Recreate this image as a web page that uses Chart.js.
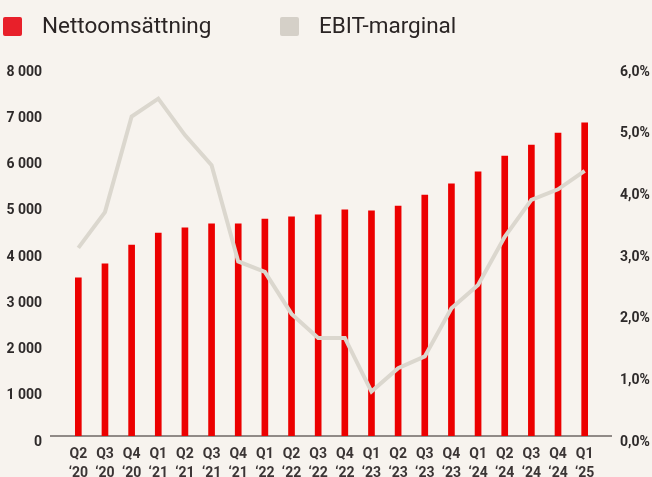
<!DOCTYPE html>
<html>
<head>
<meta charset="utf-8">
<script src="https://cdn.jsdelivr.net/npm/chart.js@4/dist/chart.umd.min.js"></script>
<style>
  html, body { margin: 0; padding: 0; background: #F7F3EE; }
  #wrap { position: relative; width: 652px; height: 477px; overflow: hidden; }
  #chart { position: absolute; left: 0; top: 0; }
  .legend { position: absolute; top: 12px; display: flex; align-items: center;
            font-family: Roboto, sans-serif; font-size: 22.5px; color: #2A2424; }
  .legend .box { width: 19px; height: 19px; border-radius: 2px; margin-right: 20px; margin-top: 3px; }
</style>
</head>
<body>
<div id="wrap">
  <canvas id="chart" width="652" height="477"></canvas>
  <div class="legend" style="left:3px"><span class="box" style="background:#E8202A"></span>Nettoomsättning</div>
  <div class="legend" style="left:280px"><span class="box" style="background:#D5D0C8"></span>EBIT-marginal</div>
</div>
<script>
// quarters, two-line labels
const quarters = ['Q2', 'Q3', 'Q4', 'Q1', 'Q2', 'Q3', 'Q4', 'Q1', 'Q2', 'Q3',
                  'Q4', 'Q1', 'Q2', 'Q3', 'Q4', 'Q1', 'Q2', 'Q3', 'Q4', 'Q1'];
const years = ['‘20', '‘20', '‘20', '‘21', '‘21', '‘21', '‘21', '‘22', '‘22', '‘22',
               '‘22', '‘23', '‘23', '‘23', '‘23', '‘24', '‘24', '‘24', '‘24', '‘25'];

// Nettoomsättning (left axis)
const netSales = [3420, 3720, 4130, 4390, 4500, 4590, 4590, 4690, 4740, 4780,
                  4890, 4870, 4970, 5210, 5450, 5710, 6050, 6290, 6550, 6770];

// EBIT-marginal in % (right axis)
const ebitMargin = [3.05, 3.63, 5.18, 5.47, 4.88, 4.39, 2.83, 2.66, 1.98, 1.59,
                    1.59, 0.72, 1.10, 1.29, 2.07, 2.45, 3.23, 3.83, 4.00, 4.30];

const leftTicks = [0, 1000, 2000, 3000, 4000, 5000, 6000, 7000, 8000];
const rightTicks = [0, 1, 2, 3, 4, 5, 6];

const labels = quarters.map((q, i) => [q, years[i]]);

// axis line that runs a bit past the plot on both sides
const baseLine = {
  id: 'baseLine',
  beforeDatasetsDraw(chart) {
    const { ctx, chartArea } = chart;
    const y = chart.scales.y.getPixelForValue(0);
    ctx.save();
    ctx.strokeStyle = '#6E6764';
    ctx.lineWidth = 1.5;
    ctx.beginPath();
    ctx.moveTo(chartArea.left - 15, y);
    ctx.lineTo(chartArea.right + 14, y);
    ctx.stroke();
    ctx.restore();
  }
};

const tickFont = { family: 'Roboto', size: 14, weight: 'bold' };

new Chart(document.getElementById('chart').getContext('2d'), {
  data: {
    labels: labels,
    datasets: [
      {
        type: 'line',
        label: 'EBIT-marginal',
        data: ebitMargin,
        yAxisID: 'y1',
        borderColor: '#DBD7CE',
        borderWidth: 4,
        pointRadius: 0,
        tension: 0,
        order: 0
      },
      {
        type: 'bar',
        label: 'Nettoomsättning',
        data: netSales,
        yAxisID: 'y',
        backgroundColor: '#EC0000',
        barThickness: 6,
        order: 1
      }
    ]
  },
  options: {
    responsive: false,
    animation: false,
    layout: { padding: { top: 66, left: 0, right: 0, bottom: 0 } },
    plugins: { legend: { display: false }, tooltip: { enabled: false } },
    scales: {
      x: {
        grid: { display: false, drawTicks: false },
        border: { display: false },
        ticks: { font: { ...tickFont, lineHeight: 1.36 }, color: '#3B3535', padding: 9, maxRotation: 0, autoSkip: false },
        afterFit(scale) { scale.height = 41; }
      },
      y: {
        position: 'left',
        min: 0,
        max: 8000,
        afterBuildTicks(scale) { scale.ticks = leftTicks.map(v => ({ value: v })); },
        grid: { display: false, drawTicks: false },
        border: { display: false },
        ticks: {
          font: tickFont,
          color: '#2E2A2A',
          padding: 23,
          labelOffset: 6,
          callback: v => v === 0 ? '0' : String(v).replace(/\B(?=(\d{3})+$)/g, ' ')
        },
        afterFit(scale) { scale.width = 65; }
      },
      y1: {
        position: 'right',
        min: 0,
        max: 6,
        afterBuildTicks(scale) { scale.ticks = rightTicks.map(v => ({ value: v })); },
        grid: { display: false, drawTicks: false },
        border: { display: false },
        ticks: {
          font: tickFont,
          color: '#2E2A2A',
          padding: 22,
          labelOffset: 6,
          callback: v => v.toFixed(1).replace('.', ',') + '%'
        },
        afterFit(scale) { scale.width = 54; }
      }
    }
  },
  plugins: [baseLine]
});
</script>
</body>
</html>
